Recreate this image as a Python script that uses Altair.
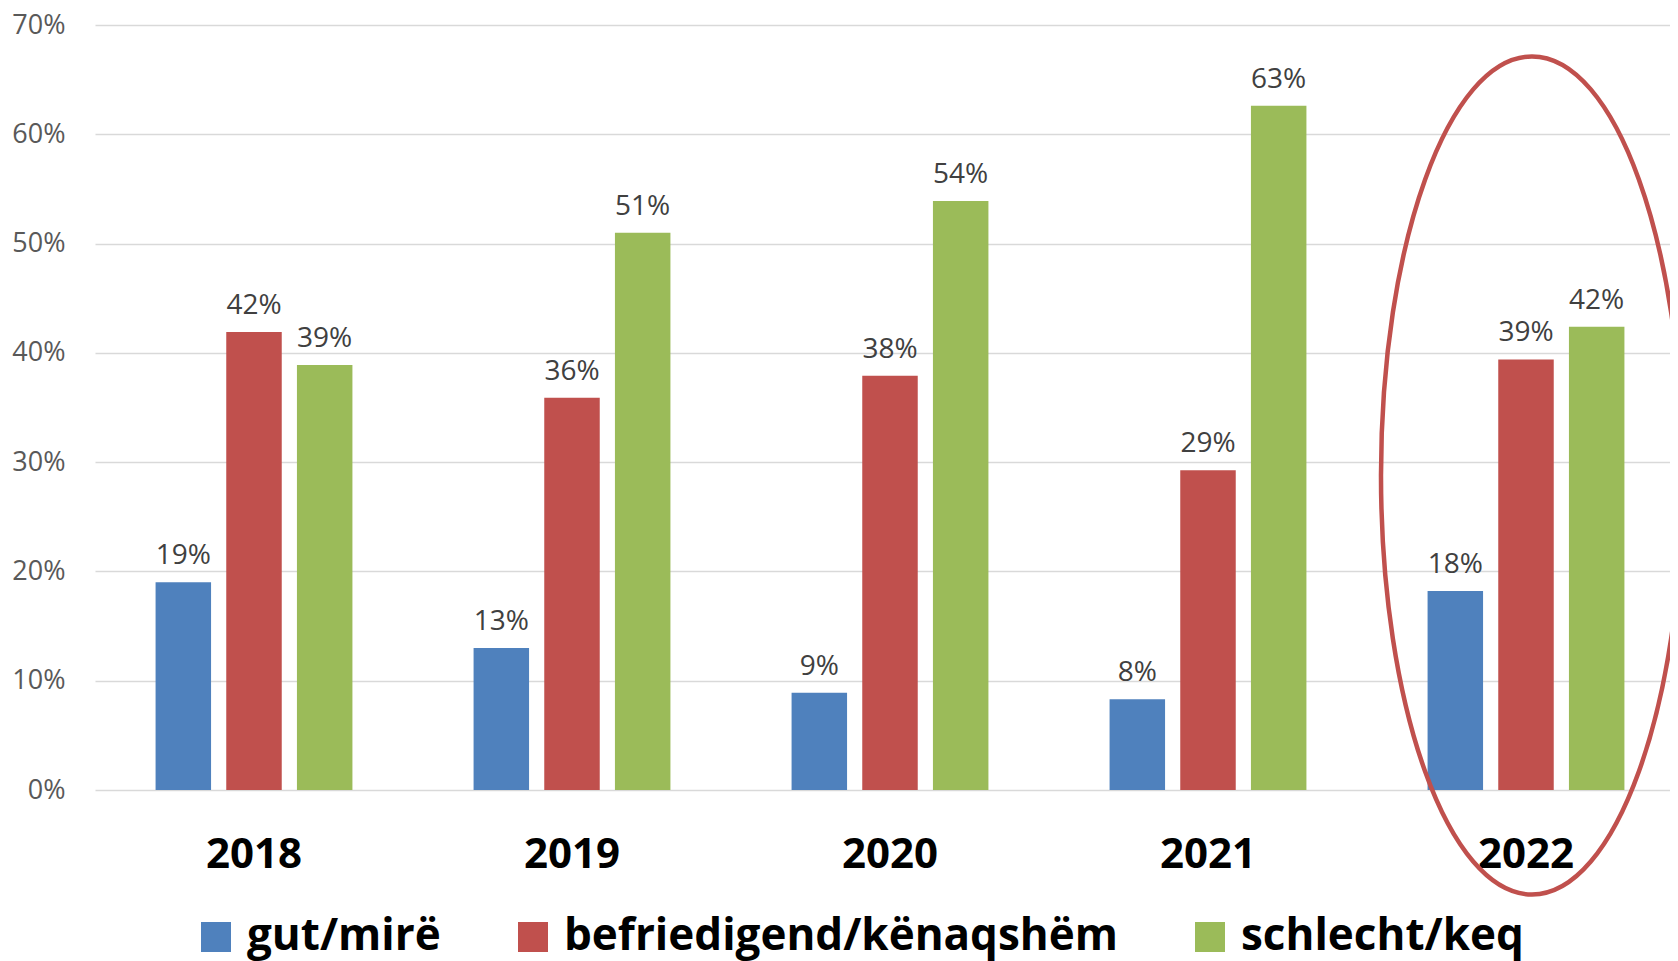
import altair as alt
import pandas as pd

years = ["2018", "2019", "2020", "2021", "2022"]
series = ["gut/mirë", "befriedigend/kënaqshëm", "schlecht/keq"]
gut = [0.19, 0.13, 0.089, 0.083, 0.182]
befr = [0.419, 0.359, 0.379, 0.2925, 0.394]
schl = [0.389, 0.51, 0.539, 0.626, 0.424]
colors = ["#4F81BD", "#C0504D", "#9BBB59"]
y_ticks = [0, 0.1, 0.2, 0.3, 0.4, 0.5, 0.6, 0.7]
highlight_year = ["2022"]
highlight_center = [0.2878]

rows = []
for s, vals in zip(series, [gut, befr, schl]):
    for yr, v in zip(years, vals):
        rows.append({"year": yr, "series": s, "value": v})
df = pd.DataFrame(rows)
df_e = pd.DataFrame({"year": highlight_year, "value": highlight_center})

xscale = alt.Scale(paddingInner=0, paddingOuter=0, range=[0, 1590])
x = alt.X(
    "year:N", sort=years,
    scale=xscale,
    axis=alt.Axis(title=None, labelAngle=0, labelFont="Open Sans", labelFontSize=42,
                  labelFontWeight="bold", labelColor="#000000", ticks=False, domain=False,
                  labelPadding=77, labelBaseline="alphabetic"),
)
xo = alt.XOffset("series:N", sort=series,
                 scale=alt.Scale(paddingInner=0.215, paddingOuter=0.857))
y = alt.Y(
    "value:Q", scale=alt.Scale(domain=[0, 0.7]),
    axis=alt.Axis(values=y_ticks, format=".0%", title=None, labelFont="Open Sans",
                  labelFontSize=27, labelColor="#595959", ticks=False, domain=False,
                  labelPadding=30, gridColor="#D9D9D9", gridWidth=1.3),
)

bars = alt.Chart(df).mark_bar().encode(
    x=x, xOffset=xo, y=y,
    color=alt.Color(
        "series:N", sort=series,
        scale=alt.Scale(domain=series, range=colors),
        legend=alt.Legend(title=None, orient="none", legendX=99, legendY=890,
                          direction="horizontal", symbolType="square", symbolSize=900,
                          symbolStrokeWidth=0, symbolOpacity=1, labelFont="Open Sans",
                          labelFontSize=44, labelFontWeight="bold", labelColor="#000000",
                          labelLimit=0, labelOffset=9, columnPadding=70, padding=0),
    ),
)

labels = alt.Chart(df).mark_text(
    dy=-18, baseline="alphabetic", font="Open Sans", fontSize=28, color="#404040"
).encode(x=x, xOffset=xo, y=y, text=alt.Text("value:Q", format=".0%"))

ell_path = "M -0.3604,0 A 0.3604,1 0 1,1 0.3604,0 A 0.3604,1 0 1,1 -0.3604,0 Z"
ellipse = alt.Chart(df_e).mark_point(
    shape=ell_path, size=702244, filled=False, stroke="#C0504D", strokeWidth=4.5,
    opacity=1, xOffset=6
).encode(x=alt.X("year:N", sort=years), y=alt.Y("value:Q"))

chart = alt.layer(bars, labels, ellipse).properties(
    width=1575, height=765,
    autosize=alt.AutoSizeParams(type="none"),
    padding={"left": 87, "top": 17, "right": 0, "bottom": 175},
).configure_view(stroke=None)

chart.save("out.html", embed_options={"renderer": "svg", "actions": False})
